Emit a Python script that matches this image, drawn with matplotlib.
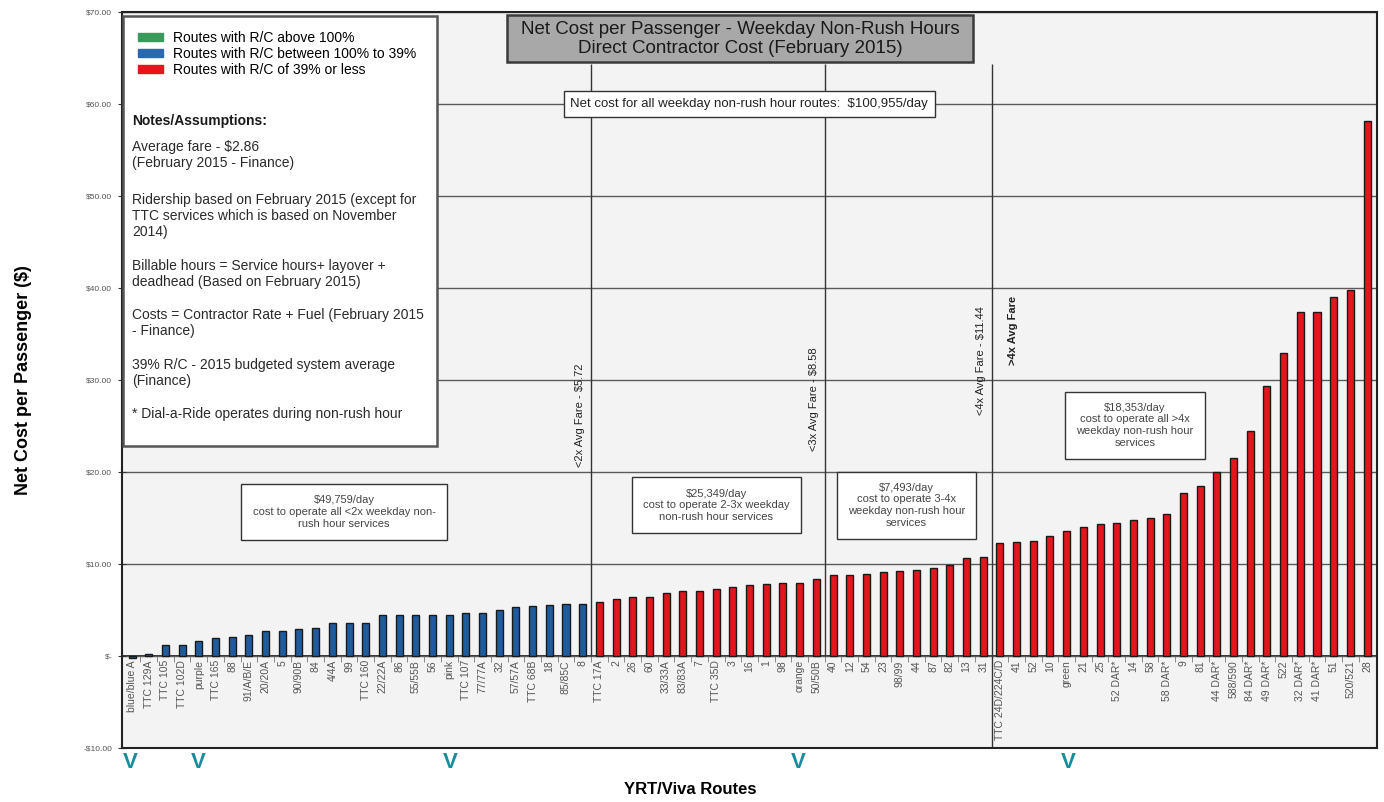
import numpy as np
import matplotlib.pyplot as plt
from matplotlib.patches import Patch, Rectangle

plt.rcParams['font.family'] = ['Liberation Sans', 'DejaVu Sans']

# routes with R/C between 100% and 39%
blue_routes = ['blue/blue A', 'TTC 129A', 'TTC 105', 'TTC 102D', 'purple', 'TTC 165', '88',
               '91/A/B/E', '20/20A', '5', '90/90B', '84', '4/4A', '99', 'TTC 160', '22/22A',
               '86', '55/55B', '56', 'pink', 'TTC 107', '77/77A', '32', '57/57A', 'TTC 68B',
               '18', '85/85C', '8']
blue_cost = [-0.2, 0.2, 1.2, 1.2, 1.6, 2.0, 2.1, 2.25, 2.7, 2.7, 2.95, 3.1, 3.55, 3.6, 3.6,
             4.45, 4.45, 4.45, 4.45, 4.45, 4.7, 4.7, 5.0, 5.3, 5.45, 5.55, 5.7, 5.7]

# routes with R/C of 39% or less
red_routes = ['TTC 17A', '2', '26', '60', '33/33A', '83/83A', '7', 'TTC 35D', '3', '16', '1',
              '98', 'orange', '50/50B', '40', '12', '54', '23', '98/99', '44', '87', '82', '13',
              '31', 'TTC 24D/224C/D', '41', '52', '10', 'green', '21', '25', '52 DAR*', '14',
              '58', '58 DAR*', '9', '81', '44 DAR*', '588/590', '84 DAR*', '49 DAR*', '522',
              '32 DAR*', '41 DAR*', '51', '520/521', '28']
red_cost = [5.85, 6.25, 6.4, 6.45, 6.8, 7.1, 7.1, 7.25, 7.55, 7.75, 7.8, 7.95, 7.95, 8.35,
            8.85, 8.85, 8.9, 9.15, 9.2, 9.3, 9.6, 9.85, 10.7, 10.8, 12.25, 12.4, 12.45, 13.0,
            13.6, 14.0, 14.4, 14.5, 14.75, 15.0, 15.4, 17.7, 18.5, 20.0, 21.5, 24.5, 29.3,
            32.9, 37.4, 37.4, 39.0, 39.8, 58.2]

avg_fare = 2.86
fare_multiples = [2, 3, 4]
daily_cost = ['$49,759/day', '$25,349/day', '$7,493/day', '$18,353/day']
total_daily = '$100,955/day'

y_ticks = [-10, 0, 10, 20, 30, 40, 50, 60, 70]
y_tick_labels = ['-$10.00', '$-', '$10.00', '$20.00', '$30.00', '$40.00', '$50.00',
                 '$60.00', '$70.00']

notes = [
    'Average fare - $2.86\n(February 2015 - Finance)',
    'Ridership based on February 2015 (except for\nTTC services which is based on November\n2014)',
    'Billable hours = Service hours+ layover +\ndeadhead (Based on February 2015)',
    'Costs = Contractor Rate + Fuel (February 2015\n- Finance)',
    '39% R/C - 2015 budgeted system average\n(Finance)',
    '* Dial-a-Ride operates during non-rush hour',
]

routes = blue_routes + red_routes
cost = np.array(blue_cost + red_cost)
colors = ['#1f5c9e'] * len(blue_routes) + ['#e3161d'] * len(red_routes)
x = np.arange(len(routes))

fig = plt.figure(figsize=(13.84, 8.02), dpi=100)
ax = fig.add_axes([0.0882, 0.0673, 0.9068, 0.9177])
ax.set_facecolor('#f3f3f3')
ax.set_axisbelow(True)

ax.bar(x, cost, width=0.42, color=colors, edgecolor='#1a1a1a', linewidth=1, zorder=3)
ax.set_xlim(-0.6, len(routes) - 0.4)
ax.set_ylim(-10, 70)

ax.set_yticks(y_ticks, y_tick_labels)
ax.tick_params(axis='y', direction='inout', length=6, labelsize=6, labelcolor='#555555',
               color='#333333', pad=4)
ax.set_xticks([])
ax.yaxis.grid(True, color='#5a5a5a', linewidth=1)
for s in ax.spines.values():
    s.set_color('#222222')
    s.set_linewidth(1.5)

# zero line with route names hanging below it
sec = ax.secondary_xaxis(0.125)
sec.set_xticks(x, routes, rotation=90, fontsize=7.5, color='#555555')
sec.set_xticks(x[:-1] + 0.5, minor=True)
sec.tick_params(axis='x', which='major', length=0, pad=3)
sec.tick_params(axis='x', which='minor', length=4, color='#777777')
sec.spines['bottom'].set_color('#111111')
sec.spines['bottom'].set_linewidth(1.2)

# fare multiple boundaries
for k, m in enumerate(fare_multiples):
    pos = np.sum(cost <= m * avg_fare) - 0.5
    lo = -10 if m == 4 else 0
    ax.vlines(pos, lo, 64.4, color='#333333', linewidth=1, zorder=2)
    ax.text(pos - 0.65, [26.2, 27.9, 32.1][k], f'<{m}x Avg Fare - ${m * avg_fare:.2f}',
            rotation=90, ha='center', va='center', fontsize=8, color='#222222')
ax.text(52.8, 35.4, '>4x Avg Fare', rotation=90, ha='center', va='center', fontsize=8,
        color='#222222', fontweight='bold')

# daily cost boxes
box = dict(boxstyle='square,pad=1.0', facecolor='white', edgecolor='#333333', linewidth=1)
ax.text(12.7, 15.65, daily_cost[0] + '\ncost to operate all <2x weekday non-\nrush hour services',
        ha='center', va='center', fontsize=8, color='#444444', bbox=box, zorder=4)
ax.text(35.0, 16.4, daily_cost[1] + '\ncost to operate 2-3x weekday\nnon-rush hour services',
        ha='center', va='center', fontsize=8, color='#444444', bbox=box, zorder=4)
ax.text(46.4, 16.4, daily_cost[2] + '\ncost to operate 3-4x\nweekday non-rush hour\nservices',
        ha='center', va='center', fontsize=8, color='#444444', bbox=box, zorder=4)
ax.text(60.1, 25.1, daily_cost[3] + '\ncost to operate all >4x\nweekday non-rush hour\nservices',
        ha='center', va='center', fontsize=8, color='#444444', bbox=box, zorder=4)
ax.text(36.97, 60, 'Net cost for all weekday non-rush hour routes:  ' + total_daily,
        ha='center', va='center', fontsize=9.5, color='#222222', zorder=4,
        bbox=dict(boxstyle='square,pad=0.5', facecolor='white', edgecolor='#333333', linewidth=1))

# title box
ax.add_patch(Rectangle((0.307, 0.932), 0.371, 0.064, transform=ax.transAxes,
                       facecolor='#a8a8a8', edgecolor='#3a3a3a', linewidth=1.8, zorder=5))
ax.text(0.4925, 0.964, 'Net Cost per Passenger - Weekday Non-Rush Hours\nDirect Contractor Cost (February 2015)',
        transform=ax.transAxes, ha='center', va='center', fontsize=13.5, color='#1a1a1a',
        linespacing=1.15, zorder=6)

# legend and notes panel
ax.add_patch(Rectangle((0.001, 0.41), 0.25, 0.585, transform=ax.transAxes,
                       facecolor='white', edgecolor='#555555', linewidth=1.8, zorder=5))
handles = [Patch(color='#3a9a5c'), Patch(color='#2a68b0'), Patch(color='#e3161d')]
leg = ax.legend(handles, ['Routes with R/C above 100%', 'Routes with R/C between 100% to 39%',
                          'Routes with R/C of 39% or less'],
                loc='upper left', bbox_to_anchor=(0.0127, 0.974), frameon=False, fontsize=10,
                handlelength=1.8, handleheight=0.5, handletextpad=0.7, labelspacing=0.15,
                borderpad=0, borderaxespad=0)
leg.set_zorder(6)
ax.text(0.008, (748 - 114) / 736, 'Notes/Assumptions:', transform=ax.transAxes, ha='left',
        va='top', fontsize=10, fontweight='bold', color='#1a1a1a', zorder=6)
note_tops = [140, 193, 259, 308, 358, 407]
for top, note in zip(note_tops, notes):
    ax.text(0.008, (748 - top) / 736, note, transform=ax.transAxes, ha='left', va='top',
            fontsize=10, color='#2a2a2a', linespacing=1.2, zorder=6)

ax.set_ylabel('Net Cost per Passenger ($)', fontsize=13, fontweight='bold')
ax.yaxis.set_label_coords(-0.072, 0.5)
fig.text(690 / 1384, 1 - 790 / 802, 'YRT/Viva Routes', ha='center', va='center',
         fontsize=12, fontweight='bold')

for vx in [130, 198, 450, 798, 1068]:
    fig.text(vx / 1384, 1 - 762 / 802, 'V', ha='center', va='center', fontsize=16,
             fontweight='bold', color='#1b8c9c')

fig.savefig('out.png', dpi=100)
